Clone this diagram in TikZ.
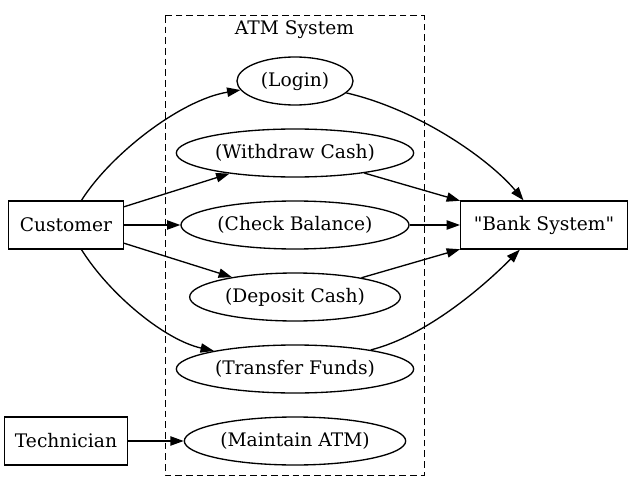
\documentclass[tikz,border=0pt]{standalone}
\usepackage{fontspec}
\setmainfont{DejaVu Serif}[Ligatures=TeXOff]
\usetikzlibrary{shapes.geometric,arrows.meta}

\begin{document}
\begin{tikzpicture}[x=0.75pt, y=-0.75pt, line width=1pt,
    font=\fontsize{14}{17}\selectfont,
    actor/.style={rectangle, draw, minimum height=36pt},
    usecase/.style={ellipse, draw, inner sep=0pt, minimum height=36pt},
    link/.style={-{Triangle[length=10pt, width=7pt]}}]
    \useasboundingbox (0,0) rectangle (632,492);

    \draw[line width=0.75pt, dash pattern=on 5pt off 3pt] (165,16) rectangle (424,475);
    \node (atm) at (294.5,30) {ATM System};

    \node[actor, minimum width=86pt] (customer) at (66,225) {Customer};
    \node[actor, minimum width=92pt] (technician) at (66,441) {Technician};
    \node[actor, minimum width=125pt] (bank) at (544,225) {"Bank System"};

    \node[usecase, minimum width=87pt] (login) at (295,81) {\makebox[0pt]{(Login)}};
    \node[usecase, minimum width=178pt] (withdraw) at (295,153) {\makebox[0pt]{(Withdraw Cash)}};
    \node[usecase, minimum width=171pt] (balance) at (295,225) {\makebox[0pt]{(Check Balance)}};
    \node[usecase, minimum width=158pt] (deposit) at (295,297) {\makebox[0pt]{(Deposit Cash)}};
    \node[usecase, minimum width=178pt] (transfer) at (295,369) {\makebox[0pt]{(Transfer Funds)}};
    \node[usecase, minimum width=166pt] (maintain) at (295,441) {\makebox[0pt]{(Maintain ATM)}};

    \draw[link] (customer) .. controls (110,155) and (180,100) .. (login);
    \draw[link] (customer) -- (withdraw);
    \draw[link] (customer) -- (balance);
    \draw[link] (customer) -- (deposit);
    \draw[link] (customer) .. controls (110,295) and (165,340) .. (transfer);
    \draw[link] (technician) -- (maintain);

    \draw[link] (login) .. controls (420,110) and (490,160) .. (bank);
    \draw[link] (withdraw) -- (bank);
    \draw[link] (balance) -- (bank);
    \draw[link] (deposit) -- (bank);
    \draw[link] (transfer) .. controls (430,335) and (490,280) .. (bank);
\end{tikzpicture}
\end{document}
